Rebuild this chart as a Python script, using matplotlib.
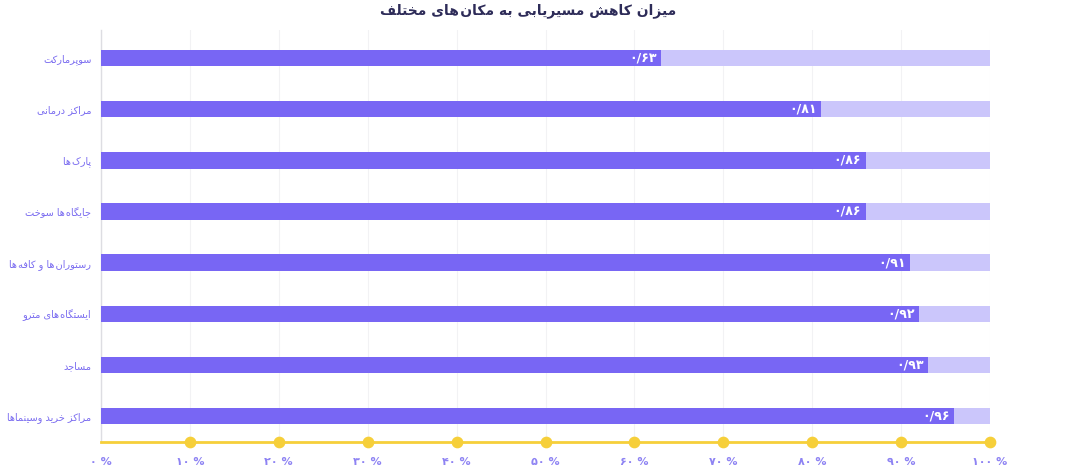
import matplotlib
matplotlib.use("Agg")
import matplotlib.pyplot as plt

plt.rcParams['font.family'] = ['DejaVu Sans']

title = "میزان کاهش مسیریابی به مکان\u200cهای مختلف"
categories = ["سوپرمارکت", "مراکز درمانی", "پارک\u200cها", "جایگاه\u200cها سوخت",
              "رستوران\u200cها و کافه\u200cها", "ایستگاه\u200cهای مترو", "مساجد",
              "مراکز خرید وسینماها"]
values = [0.63, 0.81, 0.86, 0.86, 0.91, 0.92, 0.93, 0.96]
value_labels = ["۰/۶۳", "۰/۸۱", "۰/۸۶", "۰/۸۶", "۰/۹۱", "۰/۹۲", "۰/۹۳", "۰/۹۶"]
ticks = [0, 10, 20, 30, 40, 50, 60, 70, 80, 90, 100]
tick_labels = ["۰ %", "۱۰ %", "۲۰ %", "۳۰ %", "۴۰ %", "۵۰ %", "۶۰ %", "۷۰ %", "۸۰ %", "۹۰ %", "۱۰۰ %"]

# --- minimal Persian shaping (presentation forms) ---
FORMS = {  # isolated, final, initial, medial
    '\u0627': ('\uFE8D', '\uFE8E', None, None),
    '\u0628': ('\uFE8F', '\uFE90', '\uFE91', '\uFE92'),
    '\u067E': ('\uFB56', '\uFB57', '\uFB58', '\uFB59'),
    '\u062A': ('\uFE95', '\uFE96', '\uFE97', '\uFE98'),
    '\u062C': ('\uFE9D', '\uFE9E', '\uFE9F', '\uFEA0'),
    '\u062E': ('\uFEA5', '\uFEA6', '\uFEA7', '\uFEA8'),
    '\u062F': ('\uFEA9', '\uFEAA', None, None),
    '\u0631': ('\uFEAD', '\uFEAE', None, None),
    '\u0632': ('\uFEAF', '\uFEB0', None, None),
    '\u0633': ('\uFEB1', '\uFEB2', '\uFEB3', '\uFEB4'),
    '\u0634': ('\uFEB5', '\uFEB6', '\uFEB7', '\uFEB8'),
    '\u0641': ('\uFED1', '\uFED2', '\uFED3', '\uFED4'),
    '\u06A9': ('\uFB8E', '\uFB8F', '\uFB90', '\uFB91'),
    '\u06AF': ('\uFB92', '\uFB93', '\uFB94', '\uFB95'),
    '\u0644': ('\uFEDD', '\uFEDE', '\uFEDF', '\uFEE0'),
    '\u0645': ('\uFEE1', '\uFEE2', '\uFEE3', '\uFEE4'),
    '\u0646': ('\uFEE5', '\uFEE6', '\uFEE7', '\uFEE8'),
    '\u0648': ('\uFEED', '\uFEEE', None, None),
    '\u0647': ('\uFEE9', '\uFEEA', '\uFEEB', '\uFEEC'),
    '\u06CC': ('\uFBFC', '\uFBFD', '\uFBFE', '\uFBFF'),
}


def dual(c):
    return c in FORMS and FORMS[c][2] is not None


def shape(s):
    out = []
    n = len(s)
    for i, c in enumerate(s):
        if c == '\u200c':
            out.append('\u200a')
            continue
        if c not in FORMS:
            out.append(c)
            continue
        prev = s[i - 1] if i > 0 else ''
        nxt = s[i + 1] if i + 1 < n else ''
        jp = dual(prev)
        jn = dual(c) and nxt in FORMS
        f = FORMS[c]
        if jp and jn:
            out.append(f[3])
        elif jp:
            out.append(f[1])
        elif jn:
            out.append(f[2])
        else:
            out.append(f[0])
    return ''.join(reversed(out))


purple = '#7866F4'
light = '#CBC6FB'
label_col = '#7A6CF0'
tick_col = '#8E83F3'
yellow = '#F6CF3A'

fig = plt.figure(figsize=(10.8, 4.74), dpi=100)
ax = fig.add_axes([101 / 1080, 1 - 442 / 474, (990 - 101) / 1080, (442 - 30) / 474])

ypos = list(range(len(categories)))
ax.barh(ypos, [1.0] * len(values), height=0.32, color=light, zorder=2)
ax.barh(ypos, values, height=0.32, color=purple, zorder=3)
for y, v, lab in zip(ypos, values, value_labels):
    ax.text(v - 0.005, y, lab, ha='right', va='center', color='white',
            fontsize=9, fontweight='bold', zorder=4)

ax.set_xlim(0, 1.0)
ax.set_ylim(len(categories) - 0.49, -0.55)
ax.set_yticks(ypos)
ax.set_yticklabels([shape(c) for c in categories], fontsize=7, color=label_col)
ax.tick_params(axis='y', length=0, pad=7)
ax.set_xticks([t / 100 for t in ticks])
ax.set_xticklabels(tick_labels, fontsize=8, color=tick_col, fontweight='bold')
ax.tick_params(axis='x', length=0, pad=11)
ax.grid(axis='x', color='#F2F2F4', linewidth=0.8, zorder=0)
for s in ['top', 'right', 'bottom']:
    ax.spines[s].set_visible(False)
ax.spines['left'].set_color('#DDDDE2')
ax.spines['left'].set_linewidth(1.0)

ax.axhline(ax.get_ylim()[0], color=yellow, linewidth=2, zorder=5, clip_on=False)
ax.scatter([t / 100 for t in ticks[1:]], [ax.get_ylim()[0]] * (len(ticks) - 1),
           s=55, color=yellow, zorder=6, clip_on=False)

fig.text(528 / 1080, 1 - 11 / 474, shape(title), ha='center', va='center',
         fontsize=10, fontweight='bold', color='#2D2B58')

fig.savefig('out.png', dpi=100, facecolor='white')
